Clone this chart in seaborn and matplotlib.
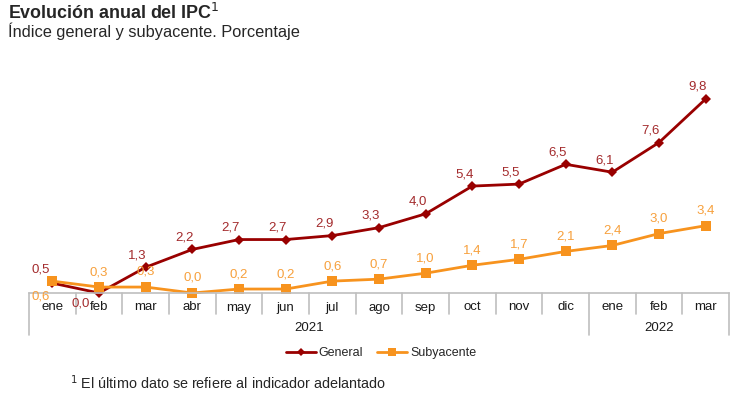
import numpy as np
import pandas as pd
import seaborn as sns
import matplotlib
matplotlib.use("Agg")
import matplotlib.pyplot as plt
from matplotlib.lines import Line2D

months = ["ene", "feb", "mar", "abr", "may", "jun", "jul", "ago", "sep", "oct", "nov", "dic", "ene", "feb", "mar"]
years = ["2021", "2022"]
year_counts = [12, 3]
general = [0.5, 0.0, 1.3, 2.2, 2.7, 2.7, 2.9, 3.3, 4.0, 5.4, 5.5, 6.5, 6.1, 7.6, 9.8]
subyacente = [0.6, 0.3, 0.3, 0.0, 0.2, 0.2, 0.6, 0.7, 1.0, 1.4, 1.7, 2.1, 2.4, 3.0, 3.4]

C_GEN = "#990000"
C_GEN_TXT = "#A32A2C"
C_SUB = "#F7931E"
C_SUB_TXT = "#F7A03C"
GRAY = "#BFBFBF"

sns.set_theme(style="white")
plt.rcParams["font.family"] = ["Liberation Sans", "DejaVu Sans"]

W, H = 745, 398
fig = plt.figure(figsize=(W / 100, H / 100), dpi=100)
ax_left, ax_right, ax_bottom, ax_top = 29, 729, 293, 80
ax = fig.add_axes([ax_left / W, (H - ax_bottom) / H, (ax_right - ax_left) / W, (ax_bottom - ax_top) / H])

x = np.arange(len(months))
df = pd.DataFrame({"x": np.concatenate([x, x]),
                   "v": general + subyacente,
                   "serie": ["General"] * len(x) + ["Subyacente"] * len(x)})

sns.lineplot(data=df[df.serie == "General"], x="x", y="v", ax=ax, color=C_GEN, lw=2,
             marker="D", markersize=5, markeredgewidth=0, sort=False, clip_on=False, legend=False)
sns.lineplot(data=df[df.serie == "Subyacente"], x="x", y="v", ax=ax, color=C_SUB, lw=2,
             marker="s", markersize=7, markeredgewidth=0, sort=False, clip_on=False, legend=False)

ax.set_xlim(-0.5, len(months) - 0.5)
ax.set_ylim(0, (ax_bottom - ax_top) / 19.8)
for s in ["top", "right", "left"]:
    ax.spines[s].set_visible(False)
ax.spines["bottom"].set_color(GRAY)
ax.spines["bottom"].set_linewidth(1.2)
ax.set_yticks([])
ax.set_xticks([])
ax.set_xlabel("")
ax.set_ylabel("")

axh = ax_bottom - ax_top
trans = ax.get_xaxis_transform()
short = -21 / axh
long_ = -42 / axh
bounds = np.cumsum([0] + year_counts) - 0.5
for b in np.arange(-0.5, len(months), 1.0):
    ylow = long_ if np.any(np.isclose(b, bounds)) else short
    ax.plot([b, b], [0, ylow], transform=trans, color=GRAY, lw=1.2, clip_on=False)
for i, m in enumerate(months):
    ax.text(i, -14.5 / axh, m, transform=trans, ha="center", va="center", fontsize=9.5, color="#1a1a1a")
for k, yr in enumerate(years):
    c = (bounds[k] + bounds[k + 1]) / 2
    ax.text(c, -35 / axh, yr, transform=trans, ha="center", va="center", fontsize=9.5, color="#1a1a1a")

def fmt(v):
    return f"{v:.1f}".replace(".", ",")

px = 0.72  # points per pixel
for i, v in enumerate(general):
    dx, dy = -8, 12
    if i == 0:
        dx, dy = -12, 14
    if i == 1:
        dx, dy = -18, -10
    ax.annotate(fmt(v), (i, v), xytext=(dx * px, dy * px), textcoords="offset points",
                ha="center", va="center", fontsize=9.5, color=C_GEN_TXT, annotation_clip=False)
for i, v in enumerate(subyacente):
    dx, dy = 0, 15
    if i == 0:
        dx, dy = -12, -15
    if i == 2:
        dx, dy = 0, 16
    ax.annotate(fmt(v), (i, v), xytext=(dx * px, dy * px), textcoords="offset points",
                ha="center", va="center", fontsize=9.5, color=C_SUB_TXT, annotation_clip=False)

handles = [Line2D([], [], color=C_GEN, lw=2, marker="D", markersize=4, markeredgewidth=0),
           Line2D([], [], color=C_SUB, lw=2, marker="s", markersize=6, markeredgewidth=0)]
fig.legend(handles, ["General", "Subyacente"], loc="center", bbox_to_anchor=(381 / W, 1 - 353 / H),
           ncol=2, frameon=False, fontsize=9, handlelength=2.4, handletextpad=0.25, columnspacing=1.1,
           borderpad=0, borderaxespad=0)

fig.text(8 / W, 1 - 13 / H, "Evolución anual del IPC$^{1}$", fontsize=12.9, fontweight="bold", va="center", ha="left")
fig.text(8 / W, 1 - 31 / H, "Índice general y subyacente. Porcentaje", fontsize=11.8, va="center", ha="left")
fig.text(70 / W, 1 - 383 / H, "$^{1}$ El último dato se refiere al indicador adelantado", fontsize=10.4, va="center", ha="left")

fig.savefig("out.png", dpi=100)
